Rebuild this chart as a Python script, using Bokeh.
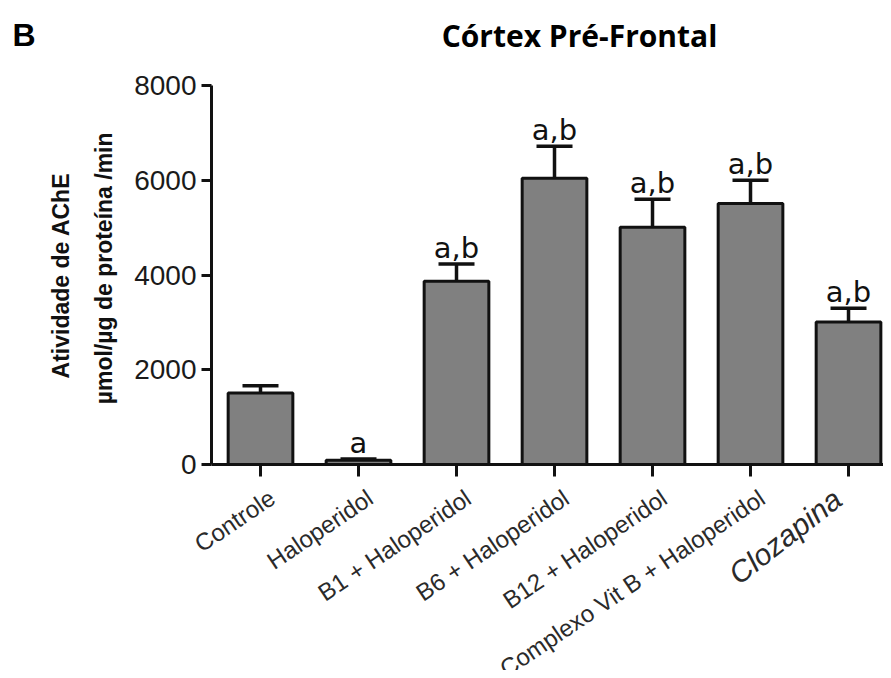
import math
from bokeh.plotting import figure
from bokeh.models import Range1d, FixedTicker, Label, Whisker, TeeHead, ColumnDataSource
from bokeh.core.properties import value
from bokeh.embed import file_html
from bokeh.resources import INLINE

# ---- data ----
categories = ["Controle", "Haloperidol", "B1 + Haloperidol", "B6 + Haloperidol",
              "B12 + Haloperidol", "Complexo Vit B + Haloperidol", "Clozapina"]
means = [1510, 90, 3870, 6040, 5010, 5510, 3010]
sems = [150, 25, 360, 680, 590, 490, 290]
letters = ["", "a", "a,b", "a,b", "a,b", "a,b", "a,b"]
y_ticks = [0, 2000, 4000, 6000, 8000]
title_text = "Córtex Pré-Frontal"
panel_letter = "B"
y_label_lines = ["Atividade de AChE", "µmol/µg de proteína /min"]

pos = list(range(len(categories)))
upper = [m + s for m, s in zip(means, sems)]
src = ColumnDataSource(dict(x=pos, top=means, upper=upper, letters=letters))

# frame covers the whole canvas; axes are pinned at x=-0.5 and y=0
W, H = 883, 670
p = figure(width=W, height=H, output_backend="svg", toolbar_location=None,
           x_range=Range1d(-2.653, 6.357), y_range=Range1d(-4348, 9794),
           min_border_left=0, min_border_right=0, min_border_top=0,
           min_border_bottom=0)
p.outline_line_color = None
p.grid.visible = False
p.background_fill_color = "white"
p.border_fill_color = "white"

INK = "#111111"

whisker = Whisker(base="x", upper="upper", lower="top", source=src,
                  line_width=3.5, line_color=INK,
                  upper_head=TeeHead(size=36, line_width=3.5, line_color=INK),
                  lower_head=None)
p.add_layout(whisker)

p.vbar(x="x", top="top", bottom=0, width=0.66, source=src,
       fill_color="#808080", line_color=INK, line_width=3)

p.text(x="x", y="upper", text="letters", source=src, y_offset=-16,
       text_align="center", text_baseline="alphabetic",
       text_font=value("DejaVu Sans"), text_font_size="29px", text_color=INK)

# axes
p.yaxis.fixed_location = -0.5
p.yaxis.bounds = (0, 8000)
p.yaxis.ticker = FixedTicker(ticks=y_ticks)
p.yaxis.minor_tick_line_color = None
p.yaxis.major_tick_out = 10
p.yaxis.major_tick_in = 0
p.yaxis.axis_line_width = 3
p.yaxis.major_tick_line_width = 3
p.yaxis.axis_line_color = INK
p.yaxis.major_tick_line_color = INK
p.yaxis.major_label_text_font = "Liberation Sans"
p.yaxis.major_label_text_font_size = "28px"
p.yaxis.major_label_text_color = "#1a1a1a"
p.yaxis.major_label_standoff = 5

p.xaxis.fixed_location = 0
p.xaxis.bounds = (-0.5, 6.357)
p.xaxis.ticker = FixedTicker(ticks=pos)
p.xaxis.major_label_overrides = {i: "" for i in pos}
p.xaxis.minor_tick_line_color = None
p.xaxis.major_tick_out = 12
p.xaxis.major_tick_in = 0
p.xaxis.axis_line_width = 3
p.xaxis.major_tick_line_width = 3
p.xaxis.axis_line_color = INK
p.xaxis.major_tick_line_color = INK

# x category labels
ang = math.radians(34)
for i, c in enumerate(categories[:-1]):
    p.add_layout(Label(x=i + 0.12, y=-650, text=c, angle=ang,
                       text_align="right", text_baseline="middle",
                       text_font="Liberation Sans", text_font_size="24px",
                       text_color="#2a2a2a"))
p.add_layout(Label(x=len(categories) - 1 - 0.11, y=-650, text=categories[-1],
                   angle=math.radians(38), text_align="right", text_baseline="middle",
                   text_font="Liberation Sans", text_font_style="italic",
                   text_font_size="30px", text_color="#2a2a2a"))

# y-axis label (two lines)
p.add_layout(Label(x=-2.031, y=3989, text=y_label_lines[0], angle=math.pi / 2,
                   text_align="center", text_baseline="alphabetic",
                   text_font="Liberation Sans", text_font_style="bold",
                   text_font_size="23px", text_color=INK))
p.add_layout(Label(x=-1.592, y=4140, text=y_label_lines[1], angle=math.pi / 2,
                   text_align="center", text_baseline="alphabetic",
                   text_font="Liberation Sans", text_font_style="bold",
                   text_font_size="23px", text_color=INK))

# title and panel letter
p.add_layout(Label(x=3.255, y=9060, text=title_text, text_align="center",
                   text_baseline="alphabetic", text_font="Open Sans",
                   text_font_style="bold", text_font_size="30px", text_color="black"))
p.add_layout(Label(x=-2.531, y=9060, text=panel_letter, text_align="left",
                   text_baseline="alphabetic", text_font="Liberation Sans",
                   text_font_style="bold", text_font_size="32px", text_color="black"))

open("out.html", "w").write(file_html(p, INLINE))
